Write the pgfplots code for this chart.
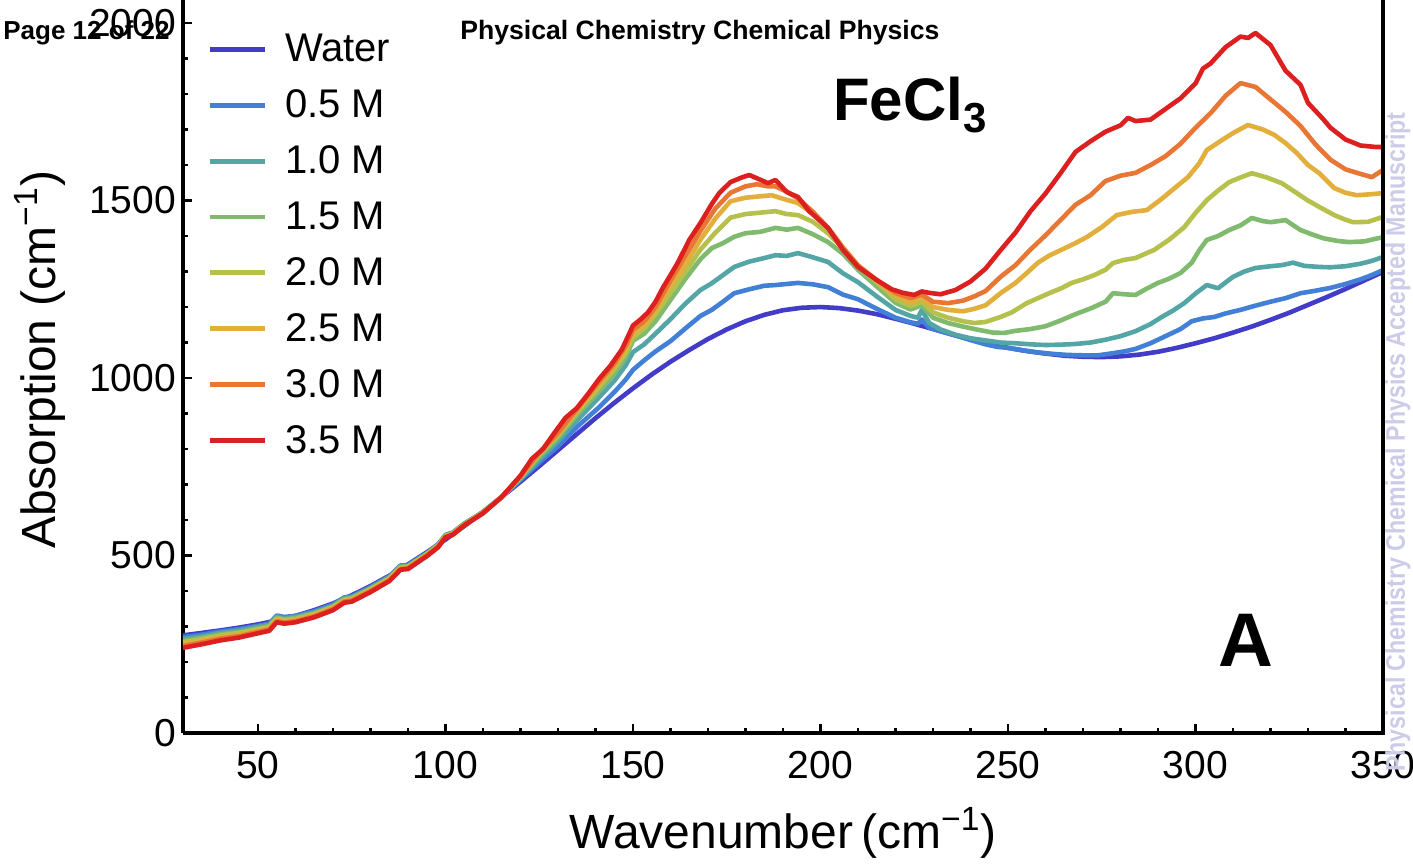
\documentclass[border=0pt]{standalone}
\usepackage{fontspec}
\setmainfont{Liberation Sans}
\usepackage{pgfplots}
\pgfplotsset{compat=1.18}

\definecolor{cW}{RGB}{66,60,200}
\definecolor{c05}{RGB}{66,128,216}
\definecolor{c10}{RGB}{84,166,166}
\definecolor{c15}{RGB}{128,186,110}
\definecolor{c20}{RGB}{182,192,76}
\definecolor{c25}{RGB}{226,174,60}
\definecolor{c30}{RGB}{232,118,52}
\definecolor{c35}{RGB}{220,32,32}
\definecolor{wm}{RGB}{204,204,232}

\begin{document}
\begin{tikzpicture}
\begin{axis}[
  at={(0,0)}, anchor=south west,
  scale only axis, width=600pt, height=366.5pt,
  xmin=30, xmax=350, ymin=0, ymax=2065,
  axis x line*=bottom, axis y line*=left,
  axis line style={line width=2.2pt},
  xtick={50,100,...,350}, ytick={0,500,1000,1500,2000},
  minor x tick num=4, minor y tick num=4,
  tick align=inside,
  major tick length=4.5pt, minor tick length=2.5pt,
  every tick/.style={black, line width=1.4pt},
  /pgf/number format/assume math mode=true,
  /pgf/number format/set thousands separator={},
  ticklabel style={font=\fontsize{19.5}{21}\selectfont},
  xticklabel style={yshift=-5.5pt},
  xlabel={Wavenumber\,(cm\textsuperscript{−1})},
  ylabel={Absorption (cm\textsuperscript{−1})},
  xlabel style={font=\fontsize{24}{26}\selectfont, at={(axis description cs:0.5,-0.1364)}, anchor=center},
  ylabel style={font=\fontsize{24}{26}\selectfont, at={(axis description cs:-0.1192,0.509)}, anchor=center},
  legend style={at={(axis description cs:0,1)}, anchor=north west, xshift=9pt, yshift=-13pt,
    draw=none, fill=white, font=\fontsize{20}{22}\selectfont, row sep=8.5pt,
    /tikz/every odd column/.append style={column sep=7pt}},
  legend cell align=left,
  legend image code/.code={\draw[#1, line width=2.3pt] (0pt,0pt) -- (27.5pt,0pt);},
  every axis plot/.append style={line width=2.3pt, line join=round},
]
\addplot[cW] coordinates {(30,275)(35,282)(40,289)(45,297)(50,306)(55,317)(60,330)(65,346)(70,365)(75,388)(80,414)(85,443)(90,475)(95,509)(100,545)(105,583)(110,623)(115,665)(120,708)(125,752)(130,797)(135,842)(140,887)(145,930)(150,971)(155,1010)(160,1046)(165,1079)(170,1110)(175,1137)(180,1160)(185,1178)(190,1191)(195,1198)(200,1200)(205,1197)(210,1190)(215,1180)(220,1167)(225,1153)(230,1138)(235,1123)(240,1109)(245,1096)(250,1085)(255,1076)(260,1069)(265,1063)(270,1060)(275,1059)(280,1061)(285,1066)(290,1074)(295,1085)(300,1098)(305,1112)(310,1128)(315,1145)(320,1164)(325,1184)(330,1206)(335,1228)(340,1251)(345,1275)(350,1299)};
\addlegendentry{Water}
\addplot[c05] coordinates {(30,270)(35,277)(40,286)(45,293)(50,302)(53,308)(55,331)(57,327)(60,330)(65,343)(70,362)(73,382)(75,385)(80,411)(85,441)(88,472)(90,473)(95,507)(98,531)(100,558)(102,565)(105,590)(110,622)(115,665)(120,713)(125,762)(130,808)(135,862)(141,918)(145,960)(148,995)(150,1023)(153,1050)(156,1075)(160,1104)(164,1140)(168,1175)(171,1192)(174,1215)(177,1239)(181,1250)(185,1260)(188,1262)(191,1265)(194,1268)(198,1264)(202,1256)(206,1235)(210,1222)(215,1195)(220,1170)(224,1157)(226,1153)(227,1165)(229,1142)(232,1132)(236,1120)(240,1107)(244,1095)(247,1088)(250,1085)(254,1078)(258,1072)(262,1068)(266,1065)(270,1064)(274,1064)(278,1070)(281,1075)(284,1082)(288,1098)(292,1118)(296,1138)(299,1160)(302,1168)(305,1172)(308,1182)(312,1192)(316,1204)(320,1215)(324,1225)(328,1239)(332,1246)(336,1254)(340,1265)(344,1278)(347,1290)(350,1304)};
\addlegendentry{0.5 M}
\addplot[c10] coordinates {(30,265)(35,272)(40,282)(45,289)(50,299)(53,305)(55,328)(57,323)(60,327)(65,340)(70,359)(73,380)(75,383)(80,409)(85,439)(88,470)(90,471)(95,506)(98,530)(100,557)(102,564)(105,589)(110,622)(115,665)(120,716)(125,770)(130,822)(135,880)(141,946)(145,992)(148,1035)(150,1073)(153,1095)(156,1125)(160,1166)(164,1210)(168,1248)(171,1267)(174,1290)(177,1313)(181,1328)(185,1338)(188,1346)(191,1344)(194,1352)(198,1340)(202,1327)(206,1295)(210,1270)(215,1230)(220,1192)(224,1175)(226,1170)(227,1192)(229,1155)(232,1137)(236,1122)(240,1112)(244,1106)(248,1100)(252,1098)(256,1095)(260,1093)(264,1094)(268,1096)(272,1100)(276,1108)(280,1118)(284,1132)(288,1152)(291,1172)(294,1190)(297,1211)(300,1238)(303,1262)(306,1253)(310,1285)(313,1300)(316,1310)(320,1315)(323,1318)(326,1325)(329,1316)(333,1313)(336,1312)(340,1315)(344,1322)(347,1330)(350,1341)};
\addlegendentry{1.0 M}
\addplot[c15] coordinates {(30,259)(35,268)(40,278)(45,284)(50,295)(53,301)(55,325)(57,320)(60,324)(65,337)(70,356)(73,377)(75,380)(80,406)(85,436)(88,468)(90,469)(95,504)(98,529)(100,555)(102,563)(105,588)(110,621)(115,665)(120,719)(125,778)(130,832)(135,895)(141,963)(145,1012)(148,1058)(150,1105)(153,1125)(156,1160)(160,1220)(164,1280)(168,1335)(171,1366)(174,1380)(177,1398)(180,1408)(184,1412)(188,1423)(191,1418)(194,1423)(198,1405)(202,1383)(206,1350)(210,1305)(215,1258)(220,1212)(224,1193)(227,1205)(230,1170)(234,1155)(238,1145)(242,1136)(246,1128)(249,1127)(252,1133)(256,1138)(260,1146)(264,1162)(268,1180)(272,1196)(276,1215)(278,1239)(281,1236)(284,1234)(287,1252)(290,1268)(293,1280)(296,1296)(299,1325)(301,1360)(303,1389)(306,1400)(309,1417)(312,1430)(315,1451)(318,1442)(320,1439)(324,1445)(328,1417)(331,1405)(334,1394)(338,1386)(341,1383)(345,1385)(350,1397)};
\addlegendentry{1.5 M}
\addplot[c20] coordinates {(30,256)(35,264)(40,275)(45,282)(50,292)(53,299)(55,322)(57,318)(60,321)(65,335)(70,355)(73,375)(75,378)(80,405)(85,435)(88,466)(90,468)(95,503)(98,528)(100,555)(102,562)(105,588)(110,621)(115,665)(120,721)(125,784)(130,838)(135,903)(141,975)(145,1025)(148,1070)(150,1115)(153,1140)(156,1180)(160,1240)(164,1300)(168,1362)(172,1410)(176,1452)(180,1462)(184,1466)(188,1470)(191,1462)(194,1459)(198,1440)(202,1408)(206,1365)(210,1315)(215,1270)(220,1222)(224,1203)(227,1215)(230,1185)(234,1170)(238,1160)(241,1155)(244,1158)(248,1172)(251,1185)(255,1211)(258,1225)(261,1239)(264,1252)(267,1268)(270,1278)(273,1290)(276,1305)(278,1324)(281,1333)(284,1338)(287,1352)(289,1361)(293,1390)(297,1425)(300,1465)(303,1501)(306,1528)(309,1552)(312,1565)(315,1577)(319,1565)(323,1549)(327,1521)(330,1500)(333,1482)(337,1459)(340,1446)(342,1439)(346,1440)(350,1454)};
\addlegendentry{2.0 M}
\addplot[c25] coordinates {(30,251)(35,260)(40,270)(45,277)(50,289)(53,295)(55,319)(57,315)(60,318)(65,332)(70,352)(73,372)(75,375)(80,402)(85,433)(88,464)(90,466)(95,501)(98,526)(100,553)(102,561)(105,587)(110,620)(115,665)(120,723)(125,788)(130,843)(135,908)(141,984)(145,1035)(148,1080)(150,1125)(153,1150)(156,1190)(160,1260)(164,1320)(168,1390)(172,1450)(176,1498)(180,1508)(184,1512)(187,1515)(190,1505)(194,1493)(198,1462)(202,1423)(206,1368)(210,1318)(215,1275)(220,1232)(224,1213)(227,1225)(230,1200)(234,1192)(238,1188)(241,1195)(244,1205)(248,1239)(252,1268)(255,1296)(258,1325)(261,1345)(264,1360)(267,1375)(271,1397)(275,1425)(279,1459)(283,1468)(287,1473)(291,1505)(295,1540)(298,1566)(301,1605)(303,1642)(307,1670)(310,1690)(314,1713)(318,1700)(321,1685)(324,1662)(327,1634)(330,1600)(333,1577)(337,1535)(340,1522)(343,1515)(347,1518)(350,1521)};
\addlegendentry{2.5 M}
\addplot[c30] coordinates {(30,245)(35,255)(40,266)(45,273)(50,285)(53,292)(55,315)(57,311)(60,315)(65,329)(70,349)(73,370)(75,373)(80,400)(85,430)(88,462)(90,464)(95,500)(98,525)(100,552)(102,560)(105,586)(110,620)(115,665)(120,724)(125,790)(130,846)(135,912)(141,990)(145,1040)(148,1090)(150,1136)(153,1160)(156,1200)(160,1275)(164,1345)(168,1415)(172,1478)(176,1522)(180,1540)(183,1546)(186,1540)(188,1540)(191,1525)(194,1506)(198,1468)(202,1423)(206,1366)(210,1316)(215,1276)(220,1240)(224,1225)(227,1235)(230,1215)(234,1211)(238,1218)(241,1230)(244,1245)(248,1285)(252,1318)(256,1362)(260,1402)(264,1445)(268,1488)(272,1515)(276,1555)(280,1570)(284,1578)(288,1600)(292,1625)(296,1660)(300,1705)(304,1746)(308,1795)(312,1831)(316,1820)(320,1785)(324,1750)(328,1710)(332,1658)(336,1615)(340,1588)(344,1575)(347,1566)(350,1586)};
\addlegendentry{3.0 M}
\addplot[c35] coordinates {(30,240)(35,250)(40,261)(45,269)(50,281)(53,288)(55,312)(57,308)(60,312)(65,326)(70,346)(73,367)(75,370)(80,397)(85,428)(88,460)(90,462)(95,498)(98,523)(100,551)(102,559)(105,585)(110,619)(115,665)(120,725)(123,772)(126,800)(129,845)(132,888)(135,915)(138,955)(141,998)(144,1035)(147,1080)(149,1125)(150,1148)(152,1165)(154,1185)(156,1215)(158,1255)(160,1290)(162,1326)(165,1389)(168,1437)(171,1490)(173,1521)(176,1552)(179,1565)(181,1572)(183,1563)(186,1549)(188,1558)(191,1524)(194,1510)(197,1470)(202,1423)(206,1361)(210,1313)(215,1276)(219,1250)(222,1240)(225,1234)(227,1244)(229,1240)(232,1236)(236,1248)(240,1272)(244,1308)(248,1360)(252,1410)(256,1470)(260,1520)(264,1577)(268,1637)(270,1652)(272,1667)(276,1694)(280,1712)(282,1733)(284,1724)(288,1728)(292,1758)(296,1788)(300,1830)(302,1872)(304,1886)(308,1932)(312,1962)(314,1958)(316,1972)(320,1938)(324,1866)(328,1826)(330,1775)(334,1730)(336,1705)(340,1672)(344,1655)(348,1651)(350,1651)};
\addlegendentry{3.5 M}
\node[font=\bfseries\fontsize{30}{32}\selectfont] at (axis cs:224,1769) {FeCl\textsubscript{3}};
\node[font=\bfseries\fontsize{38}{40}\selectfont] at (axis cs:313.5,262) {A};
\end{axis}
% right frame line
\draw[line width=2.2pt] (600pt,-1.1pt) -- (600pt,366.5pt);
\node[anchor=west, inner sep=0pt, font=\bfseries\fontsize{13}{14}\selectfont] at (-90pt,350pt) {Page 12 of 22};
\node[anchor=west, inner sep=0pt, font=\bfseries\fontsize{13.3}{14}\selectfont] at (138.5pt,350pt) {Physical Chemistry Chemical Physics};
\node[rotate=90, inner sep=0pt, text=wm, font=\bfseries\fontsize{13.5}{14}\selectfont] at (607.5pt,145.5pt) {\scalebox{0.86}[1]{Physical Chemistry Chemical Physics Accepted Manuscript}};
\pgfresetboundingbox
\path[use as bounding box] (-91.5pt,-65.5pt) rectangle (615pt,366.5pt);
\end{tikzpicture}
\end{document}
